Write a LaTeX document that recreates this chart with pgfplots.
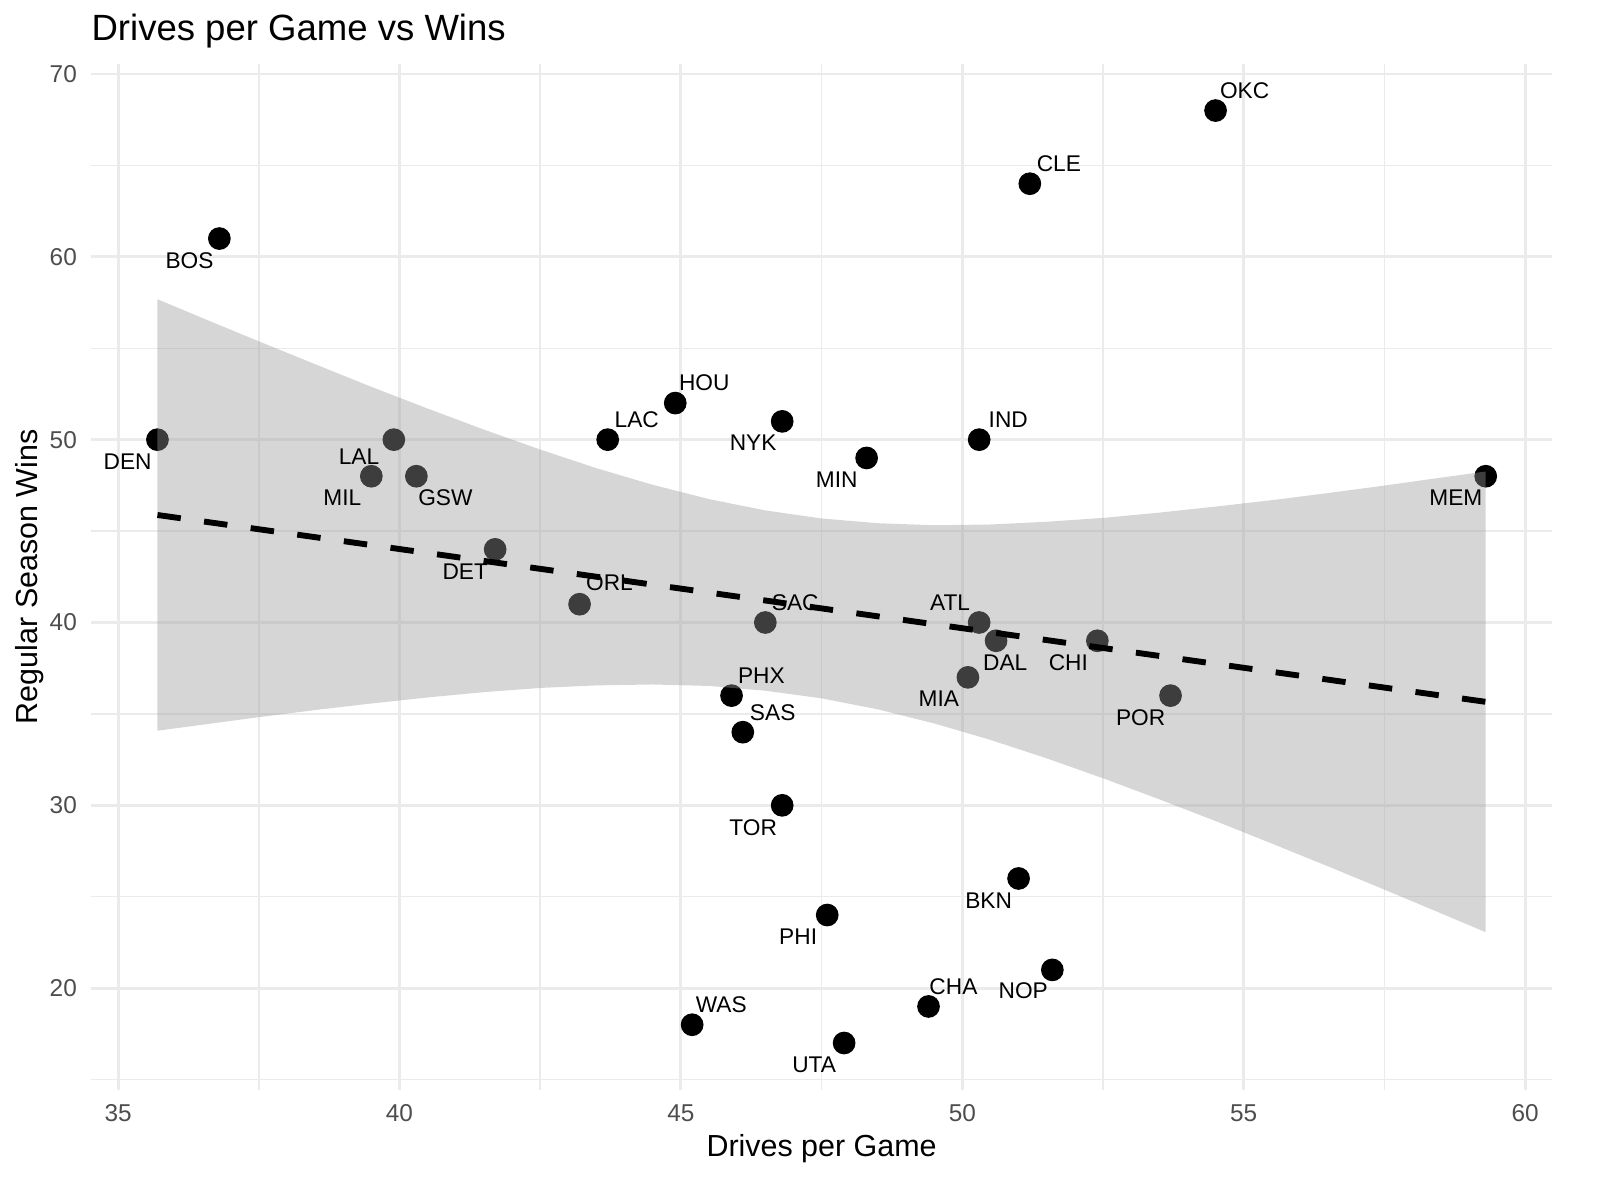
\documentclass[border=0pt]{standalone}
\usepackage{pgfplots}
\pgfplotsset{compat=1.18}
\usepackage{pgfplotstable}
\usepackage{fontspec}
\setmainfont{Liberation Sans}
\definecolor{gridgrey}{HTML}{EBEBEB}
\definecolor{ticktext}{HTML}{4D4D4D}
\definecolor{bandgrey}{HTML}{999999}

% team, drives per game, wins, label offset (pt)
\pgfplotstableread{
team x y dx dy
OKC 54.5 68 10.5 7.2
CLE 51.2 64 10.5 7.2
BOS 36.8 61 -10.8 -7.9
DEN 35.7 50 -10.8 -7.9
LAL 39.9 50 -12.6 -6.1
MIL 39.5 48 -10.5 -7.6
GSW 40.3 48 10.5 -7.6
DET 41.7 44 -10.8 -7.9
ORL 43.2 41 10.8 7.6
LAC 43.7 50 10.5 7.2
HOU 44.9 52 10.5 7.2
NYK 46.8 51 -10.5 -7.6
MIN 48.3 49 -10.8 -7.9
IND 50.3 50 10.5 7.2
MEM 59.3 48 -10.8 -7.6
SAC 46.5 40 10.8 7.2
ATL 50.3 40 -10.5 7.2
DAL 50.6 39 3.3 -7.9
CHI 52.4 39 -10.5 -7.9
MIA 50.1 37 -10.5 -7.6
POR 53.7 36 -10.8 -7.9
PHX 45.9 36 10.8 7.2
SAS 46.1 34 10.8 7.2
TOR 46.8 30 -10.5 -7.9
BKN 51.0 26 -10.8 -7.9
PHI 47.6 24 -10.5 -7.9
NOP 51.6 21 -10.5 -7.6
CHA 49.4 19 9.0 7.2
WAS 45.2 18 10.5 7.2
UTA 47.9 17 -10.8 -7.9
}\teams

% linear fit
\pgfplotstableread{
x fit
35.7 45.88
59.3 35.66
}\fit

% confidence band outline: upper edge left to right, lower edge back
\pgfplotstableread{
x y
35.7 57.68
36.5 56.65
37.5 55.38
38.5 54.13
39.5 52.89
40.5 51.70
41.5 50.55
42.5 49.46
43.5 48.44
44.5 47.53
45.5 46.75
46.5 46.13
47.5 45.69
48.5 45.43
49.5 45.32
50.5 45.36
51.5 45.51
52.5 45.72
53.5 46.01
54.5 46.34
55.5 46.69
56.5 47.08
57.5 47.49
58.5 47.92
59.3 48.26
59.3 23.06
58.5 24.10
57.5 25.39
56.5 26.66
55.5 27.91
54.5 29.14
53.5 30.33
52.5 31.48
51.5 32.57
50.5 33.58
49.5 34.48
48.5 35.25
47.5 35.85
46.5 36.27
45.5 36.53
44.5 36.61
43.5 36.56
42.5 36.42
41.5 36.19
40.5 35.90
39.5 35.57
38.5 35.21
37.5 34.82
36.5 34.41
35.7 34.08
}\band

\begin{document}
\begin{tikzpicture}
\begin{axis}[
    at={(0,0)}, anchor=south west,
    scale only axis,
    width=527.9pt, height=370.6pt,
    xmin=34.52, xmax=60.48,
    ymin=14.45, ymax=70.55,
    xtick={35,40,...,60},
    ytick={20,30,...,70},
    minor xtick={37.5,42.5,47.5,52.5,57.5},
    minor ytick={15,25,35,45,55,65},
    grid=both,
    major grid style={gridgrey, line width=1.07pt},
    minor grid style={gridgrey, line width=0.53pt},
    major tick length=0pt, minor tick length=0pt,
    axis line style={draw=none},
    clip=false,
    clip marker paths=true,
    /pgf/number format/assume math mode=true,
    ticklabel style={font=\fontsize{8.8}{10}\selectfont, text=ticktext},
    xticklabel style={anchor=base, yshift=-11.5pt},
    yticklabel style={anchor=east, inner sep=0pt, xshift=-4.95pt},
    title={Drives per Game vs Wins},
    title style={at={(axis description cs:0,1)}, anchor=base west,
        yshift=2.3pt, inner sep=0pt, font=\fontsize{13.2}{15}\selectfont},
    xlabel={Drives per Game},
    ylabel={Regular Season Wins},
    label style={font=\fontsize{11}{13}\selectfont},
    xlabel style={at={(axis description cs:0.5,-0.0648)}, anchor=base, inner sep=0pt},
    ylabel style={at={(axis description cs:-0.0364,0.5)}, anchor=base, inner sep=0pt},
]

% points
\addplot[only marks, mark=*, mark size=3.9pt, black] table[x=x, y=y] {\teams};

% confidence band, drawn over the points
\addplot[fill=bandgrey, fill opacity=0.4, draw=none] table[x=x, y=y] {\band};

% fitted line
\addplot[black, line width=2.13pt, dash pattern=on 8.5pt off 8.5pt] table[x=x, y=fit] {\fit};

% team labels
\addplot[only marks, mark=*, mark size=0pt, mark options={draw=none, fill=none},
    point meta=explicit symbolic,
    visualization depends on={\thisrow{dx} \as \ldx},
    visualization depends on={\thisrow{dy} \as \ldy},
    nodes near coords,
    nodes near coords style={anchor=center, inner sep=0pt, text=black,
        xshift=\ldx pt, yshift=\ldy pt, font=\fontsize{8.2}{10}\selectfont},
] table[x=x, y=y, meta=team] {\teams};

\end{axis}
\pgfresetboundingbox
\path[use as bounding box] (-32.9pt,-39.9pt) rectangle (545.2pt,393.7pt);
\end{tikzpicture}%
\end{document}
